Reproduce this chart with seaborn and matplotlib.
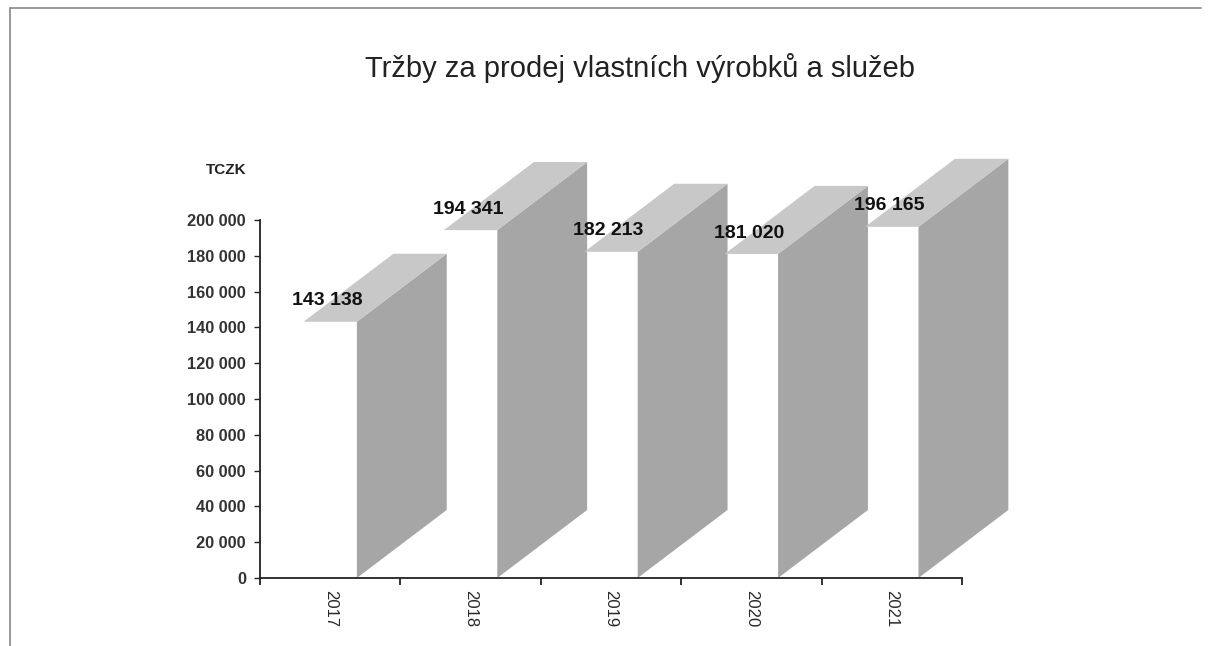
import numpy as np
import matplotlib
matplotlib.use('Agg')
import matplotlib.pyplot as plt
from matplotlib.patches import Polygon
from matplotlib.ticker import FuncFormatter, FixedLocator
import seaborn as sns

# data
years = ['2017', '2018', '2019', '2020', '2021']
revenue = [143138, 194341, 182213, 181020, 196165]
y_ticks = list(range(0, 200001, 20000))

title = 'Tržby za prodej vlastních výrobků a služeb'
unit = 'TCZK'

sns.set_theme(style='white')
plt.rcParams['font.family'] = ['Liberation Sans', 'DejaVu Sans']

fig = plt.figure(figsize=(12.11, 6.46), dpi=100)
ax = fig.add_axes([0.2147, 0.1053, 0.5797, 0.5542])

# white front faces
sns.barplot(x=years, y=revenue, color='white', width=0.38, ax=ax,
            edgecolor='none', saturation=1)
ax.set_xlim(-0.5, 4.5)
ax.set_ylim(0, 200000)

# fake 3D depth (side + top faces)
depth_x = 0.64
depth_y = 38000
side_col = '#a6a6a6'
top_col = '#c8c8c8'
for p in ax.patches:
    x0 = p.get_x()
    x1 = x0 + p.get_width()
    h = p.get_height()
    side = Polygon([(x1, 0), (x1, h), (x1 + depth_x, h + depth_y),
                    (x1 + depth_x, depth_y)], closed=True,
                   facecolor=side_col, edgecolor='none', clip_on=False, zorder=2)
    top = Polygon([(x0, h), (x1, h), (x1 + depth_x, h + depth_y),
                   (x0 + depth_x, h + depth_y)], closed=True,
                  facecolor=top_col, edgecolor='none', clip_on=False, zorder=2)
    ax.add_patch(side)
    ax.add_patch(top)
    ax.annotate(f'{h:,.0f}'.replace(',', ' '), (x0 + p.get_width() / 2, h),
                xytext=(-2, 15), textcoords='offset points', ha='center',
                va='center', fontsize=14, fontweight='bold', color='#111111',
                zorder=5, annotation_clip=False)

# axes styling
for s in ['top', 'right']:
    ax.spines[s].set_visible(False)
for s in ['left', 'bottom']:
    ax.spines[s].set_color('#222222')
    ax.spines[s].set_linewidth(1.3)
    ax.spines[s].set_zorder(3)

ax.set_yticks(y_ticks)
ax.yaxis.set_major_formatter(FuncFormatter(lambda v, _: f'{v:,.0f}'.replace(',', ' ')))
ax.tick_params(axis='y', direction='out', length=4, width=1, color='#222222',
               labelsize=11.8, labelcolor='#333333', pad=6, left=True)
for lbl in ax.get_yticklabels():
    lbl.set_fontweight('bold')

ax.xaxis.set_minor_locator(FixedLocator(np.arange(-0.5, 5, 1.0)))
ax.tick_params(axis='x', which='major', length=0, labelsize=12,
               labelcolor='#2a2a2a', labelrotation=-90, pad=9)
ax.tick_params(axis='x', which='minor', direction='out', length=5, width=1.3,
               color='#222222', bottom=True)
ax.set_xlabel('')
ax.set_ylabel('')
ax.grid(False)

fig.text(0.5285, 0.895, title, ha='center', va='center', fontsize=21,
         color='#222222')
fig.text(0.187, 0.737, unit, ha='center', va='center', fontsize=11,
         fontweight='bold', color='#222222')

# frame of the chart area
fig.add_artist(plt.Line2D([0.008, 0.992], [0.988, 0.988], color='#888888', lw=1.2))
fig.add_artist(plt.Line2D([0.008, 0.008], [0.0, 0.988], color='#888888', lw=1.2))

fig.savefig('out.png', dpi=100)
